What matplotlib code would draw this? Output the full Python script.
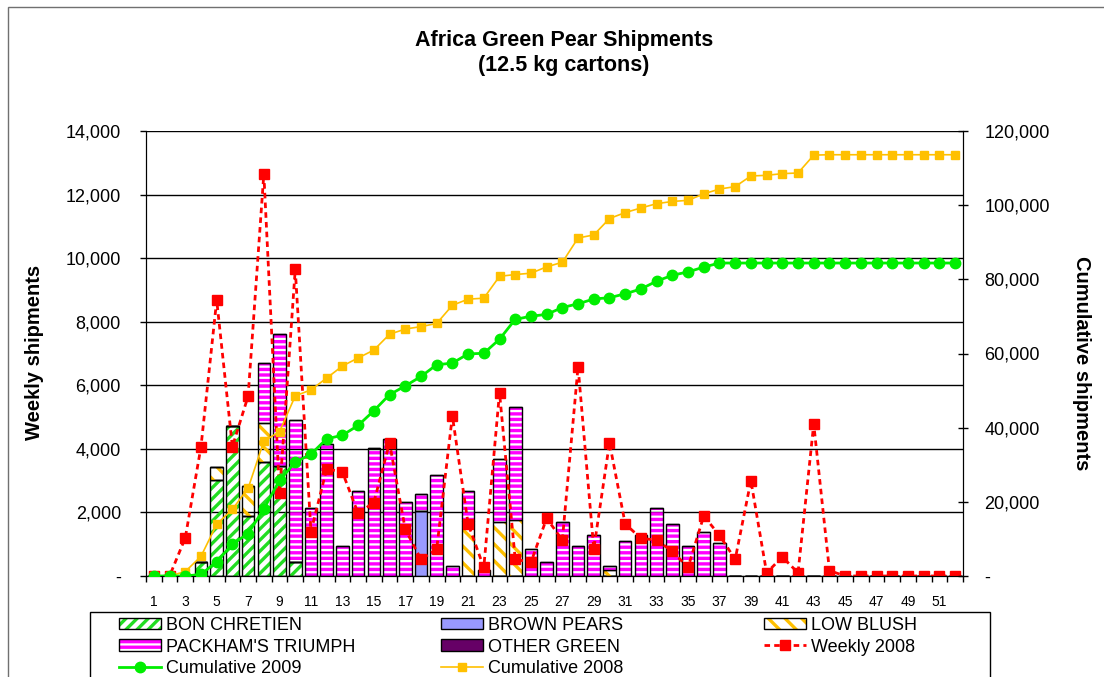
import matplotlib
matplotlib.use("Agg")
import matplotlib.pyplot as plt
import matplotlib.patches as mpatches
from matplotlib.lines import Line2D
from matplotlib.ticker import FuncFormatter
import numpy as np

plt.rcParams['font.family'] = ['Liberation Sans', 'DejaVu Sans']
plt.rcParams['hatch.linewidth'] = 2.4

# weeks 1..52
weeks = list(range(1, 53))

bon_chretien = [0, 0, 0, 430, 3020, 4720, 1900, 3600, 3460, 430,
                0, 0, 0, 0, 0, 0, 0, 0, 0, 0,
                0, 0, 0, 0, 0, 0, 0, 0, 0, 0,
                0, 0, 0, 0, 0, 0, 0, 0, 0, 0,
                0, 0, 0, 0, 0, 0, 0, 0, 0, 0,
                0, 0]
brown_pears = [0, 0, 0, 0, 0, 0, 0, 0, 0, 0,
               0, 0, 0, 0, 0, 0, 0, 2060, 0, 0,
               0, 0, 0, 0, 0, 0, 0, 0, 0, 0,
               0, 0, 0, 0, 0, 0, 0, 0, 0, 0,
               0, 0, 0, 0, 0, 0, 0, 0, 0, 0,
               0, 0]
low_blush = [0, 0, 0, 0, 420, 0, 930, 1200, 0, 0,
             0, 0, 0, 0, 0, 0, 0, 0, 0, 0,
             1730, 0, 1710, 1770, 0, 0, 0, 0, 0, 190,
             0, 0, 0, 0, 0, 0, 0, 0, 0, 0,
             0, 0, 0, 0, 0, 0, 0, 0, 0, 0,
             0, 0]
packham = [0, 0, 0, 0, 0, 0, 0, 1890, 4150, 4480,
           2130, 4140, 944, 2670, 4040, 4310, 2340, 510, 3180, 325,
           940, 190, 1970, 3560, 860, 440, 1710, 944, 1280, 135,
           1090, 1280, 2140, 1650, 944, 1370, 1030, 0, 0, 0,
           0, 0, 0, 0, 0, 0, 0, 0, 0, 0,
           0, 0]
other_green = [0, 0, 0, 0, 0, 0, 0, 0, 0, 0,
               0, 0, 0, 0, 0, 0, 0, 0, 0, 0,
               0, 0, 0, 0, 0, 0, 0, 0, 0, 0,
               0, 0, 0, 0, 0, 0, 0, 0, 0, 0,
               0, 0, 0, 0, 0, 0, 0, 0, 0, 0,
               0, 0]

weekly_2008 = [0, 0, 1200, 4070, 8680, 4070, 5660, 12650, 2600, 9650,
               1400, 3370, 3270, 1970, 2310, 4190, 1470, 525, 840, 5040,
               1640, 270, 5770, 525, 430, 1815, 1130, 6590, 850, 4190,
               1640, 1185, 1130, 775, 270, 1890, 1280, 525, 3000, 100,
               600, 100, 4780, 170, 0, 0, 0, 0, 0, 0,
               0, 0]
cum_2009 = [0, 0, 0, 430, 3870, 8590, 11450, 18100, 25800, 30700,
            32850, 37000, 37950, 40600, 44550, 48900, 51250, 53800, 56970, 57400,
            59900, 60050, 63850, 69200, 70050, 70550, 72400, 73400, 74700, 75050,
            76100, 77400, 79500, 81100, 82000, 83300, 84400, 84400, 84400, 84400,
            84400, 84400, 84400, 84400, 84400, 84400, 84400, 84400, 84400, 84400,
            84400, 84400]
cum_2008 = [0, 0, 1200, 5300, 13950, 18000, 23660, 36350, 38930, 48560,
            50200, 53380, 56620, 58800, 60920, 65180, 66600, 67250, 68100, 73000,
            74650, 74920, 80800, 81300, 81650, 83370, 84600, 91150, 91970, 96400,
            98000, 99250, 100400, 101000, 101300, 103050, 104350, 105000, 107870, 108050,
            108500, 108680, 113500, 113600, 113600, 113600, 113600, 113600, 113600, 113600,
            113600, 113600]

W, H = 1104, 677
fig = plt.figure(figsize=(W / 100, H / 100), dpi=100)
ax = fig.add_axes([146 / W, 1 - 576 / H, (963 - 146) / W, (576 - 131) / H])

green = '#22dd22'
magenta = '#ff00ff'
gold = '#ffc000'
lblue = '#9999ff'
purple = '#660066'
x = np.array(weeks)
bw = 0.8

series = [
    (bon_chretien, green, '///', True),
    (brown_pears, lblue, None, False),
    (low_blush, gold, '\\\\', True),
    (packham, magenta, '---', True),
    (other_green, purple, None, False),
]
bottom = np.zeros(len(weeks))
for vals, col, hatch, hatched in series:
    vals = np.array(vals, dtype=float)
    if hatched:
        ax.bar(x, vals, bw, bottom=bottom, facecolor='none', edgecolor=col,
               hatch=hatch, linewidth=0, zorder=2)
        ax.bar(x, vals, bw, bottom=bottom, facecolor='none', edgecolor='black',
               linewidth=1, zorder=2)
    else:
        ax.bar(x, vals, bw, bottom=bottom, facecolor=col, edgecolor='black',
               linewidth=1, zorder=2)
    bottom += vals

ax.plot(x, weekly_2008, color='red', lw=2, dashes=(2, 1.5), marker='s',
        markersize=7, zorder=4)

ax.set_xlim(0.5, 52.5)
ax.set_ylim(0, 14000)
ax.set_yticks(np.arange(0, 14001, 2000))
fmt = FuncFormatter(lambda v, p: '-' if v == 0 else f'{v:,.0f}')
ax.yaxis.set_major_formatter(fmt)
ax.grid(axis='y', color='black', lw=1)
ax.set_axisbelow(True)
ax.tick_params(axis='y', direction='out', length=4, width=1, pad=14, labelsize=13)

ax.set_xticks(np.arange(0.5, 53, 1))
ax.set_xticklabels([])
ax.set_xticks(x[::2], minor=True)
ax.set_xticklabels([str(w) for w in weeks[::2]], minor=True)
ax.tick_params(axis='x', which='major', direction='out', length=4, width=1)
ax.tick_params(axis='x', which='minor', length=0, pad=14, labelsize=10)
ax.spines['top'].set_visible(False)

ax2 = ax.twinx()
ax2.plot(x, cum_2008, color=gold, lw=1.2, marker='s', markersize=6, zorder=3)
ax2.plot(x, cum_2009, color='#00ee00', lw=2, marker='o', markersize=7.5, zorder=3)
ax2.set_ylim(0, 120000)
ax2.set_yticks(np.arange(0, 120001, 20000))
ax2.yaxis.set_major_formatter(fmt)
ax2.tick_params(axis='y', direction='inout', length=7, width=1, pad=12, labelsize=13)
ax2.spines['top'].set_visible(False)
ax2.set_xlim(0.5, 52.5)

fig.text(564 / W, 1 - 53 / H, 'Africa Green Pear Shipments\n(12.5 kg cartons)',
         ha='center', va='center', fontsize=15.5, fontweight='bold', linespacing=1.25)
fig.text(35 / W, 1 - 352 / H, 'Weekly shipments', rotation=90, ha='center',
         va='center', fontsize=14.5, fontweight='bold')
fig.text(1082 / W, 1 - 363 / H, 'Cumulative shipments', rotation=270, ha='center',
         va='center', fontsize=14.5, fontweight='bold')

# outer chart border and legend frame
fig.add_artist(mpatches.Rectangle((8 / W, -0.1), 1.2, 1 - 7 / H + 0.1,
                                  transform=fig.transFigure, fill=False,
                                  ec='#707070', lw=1))
fig.add_artist(mpatches.Rectangle((90 / W, -0.1), 900 / W, (677 - 612) / H + 0.1,
                                  transform=fig.transFigure, fill=False,
                                  ec='black', lw=1))


def hpatch(col, hatch):
    return (mpatches.Patch(facecolor='none', edgecolor=col, hatch=hatch, linewidth=0),
            mpatches.Patch(facecolor='none', edgecolor='black', linewidth=1))


h_bc = hpatch(green, '///')
h_lb = hpatch(gold, '\\\\')
h_pt = hpatch(magenta, '---')
h_bp = mpatches.Patch(facecolor=lblue, edgecolor='black')
h_og = mpatches.Patch(facecolor=purple, edgecolor='black')
h_wk = Line2D([], [], color='red', lw=2, dashes=(2, 1.5), marker='s', markersize=7)
h_c9 = Line2D([], [], color='#00ee00', lw=2, marker='o', markersize=7.5)
h_c8 = Line2D([], [], color=gold, lw=1.2, marker='s', markersize=6)

cols = [
    (119, [h_bc, h_pt, h_c9], ['BON CHRETIEN', "PACKHAM'S TRIUMPH", 'Cumulative 2009']),
    (441, [h_bp, h_og, h_c8], ['BROWN PEARS', 'OTHER GREEN', 'Cumulative 2008']),
    (764, [h_lb, h_wk], ['LOW BLUSH', 'Weekly 2008']),
]
for xpix, hs, labs in cols:
    fig.legend(hs, labs, loc='upper left', bbox_to_anchor=(xpix / W, 1 - 617 / H),
               frameon=False, borderpad=0, borderaxespad=0, fontsize=13,
               handlelength=2.3, handleheight=0.6, handletextpad=0.3,
               labelspacing=0.25, numpoints=1)

fig.savefig('out.png', dpi=100)
